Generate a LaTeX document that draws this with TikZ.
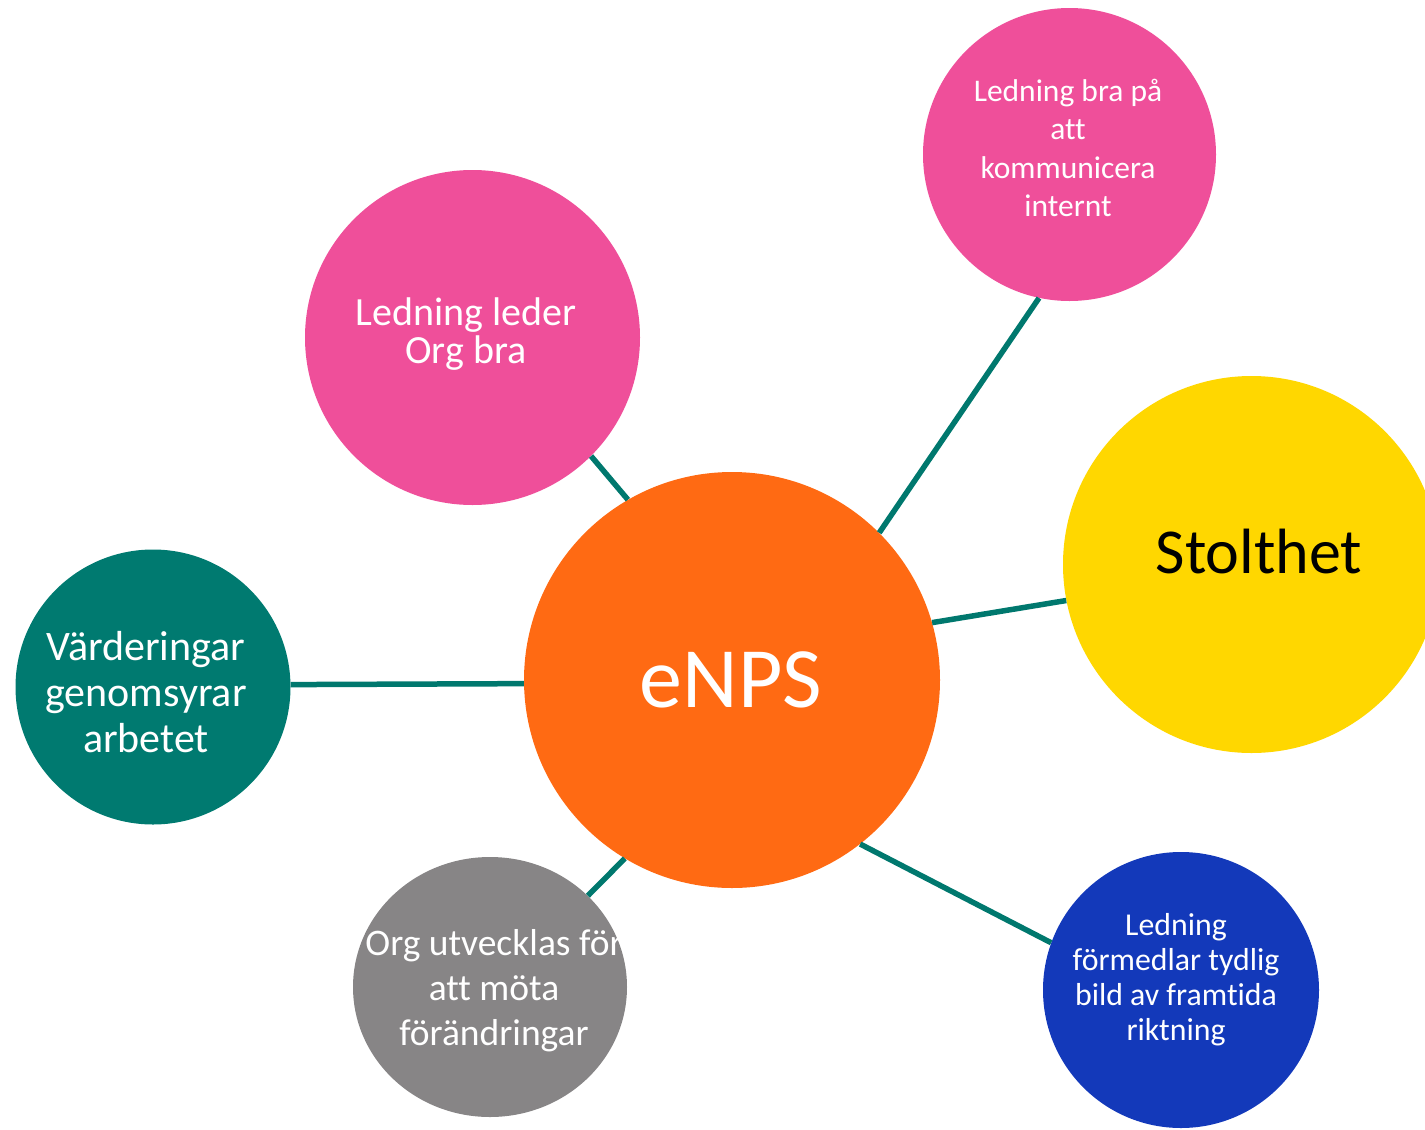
\documentclass[tikz,border=0pt]{standalone}
\usepackage{fontspec}
\setmainfont{Carlito}[Ligatures=NoCommon]
\usetikzlibrary{shapes.geometric}
\definecolor{pinkc}{HTML}{EF4F9A}
\definecolor{orangec}{HTML}{FF6A13}
\definecolor{yellowc}{HTML}{FFD700}
\definecolor{tealc}{HTML}{007A70}
\definecolor{grayc}{HTML}{878586}
\definecolor{bluec}{HTML}{1339BA}
\definecolor{linec}{HTML}{00786E}
\begin{document}
\begin{tikzpicture}[x=1pt,y=-1pt,
  bub/.style={circle, inner sep=0pt, draw=none},
  conn/.style={draw=linec, line width=5.5pt},
  lbl/.style={align=center, text=white, inner sep=0pt}]
\useasboundingbox (0,0) rectangle (1425,1130);
\clip (0,0) rectangle (1425,1130);
% bubbles
\node[bub, fill=orangec, minimum size=416] (e) at (732,680) {};
\node[bub, fill=pinkc, minimum size=335] (lead) at (472.5,337.5) {};
\node[bub, fill=pinkc, minimum size=293] (komm) at (1069.5,154.5) {};
\node[bub, fill=yellowc, minimum size=377] (stolt) at (1251.5,564.5) {};
\node[bub, fill=tealc, minimum size=275] (vard) at (153,687) {};
\node[ellipse, inner sep=0pt, fill=grayc, minimum width=274, minimum height=260] (gray) at (490,987) {};
\node[bub, fill=bluec, minimum size=276] (blue) at (1181,990) {};
% connectors
\draw[conn] (e.120.3) -- (lead.-45.2);
\draw[conn] (e.45.4) -- (komm.258.7);
\draw[conn] (e.16.2) -- (stolt.191.7);
\draw[conn] (e.181) -- (vard.1);
\draw[conn] (e.239) -- (gray.43.5);
\draw[conn] (e.308.1) -- (blue.160);
% labels
\node[lbl, font=\fontsize{86}{86}\selectfont] (eT) at (731,680) {eNPS};
\node[lbl, text=black, font=\fontsize{64}{64}\selectfont] (stoltT) at (1259,552) {Stolthet};
\node[lbl, font=\fontsize{40}{38.5}\selectfont] (leadT) at (466,334) {Ledning leder\\Org bra};
\node[lbl, font=\fontsize{31.5}{38.5}\selectfont] (kommT) at (1068,148) {Ledning bra på\\att\\kommunicera\\internt};
\node[lbl, font=\fontsize{42}{46}\selectfont] (vardT) at (146,692) {Värderingar\\genomsyrar\\arbetet};
\begin{scope}
\clip (490,987) ellipse [x radius=137, y radius=130];
\node[lbl, font=\fontsize{37.5}{45}\selectfont] (grayT) at (494,991) {Org utvecklas för\\att möta\\förändringar};
\end{scope}
\node[lbl, font=\fontsize{31.8}{35}\selectfont] (blueT) at (1176,980) {Ledning\\förmedlar tydlig\\bild av framtida\\riktning};
\end{tikzpicture}
\end{document}
